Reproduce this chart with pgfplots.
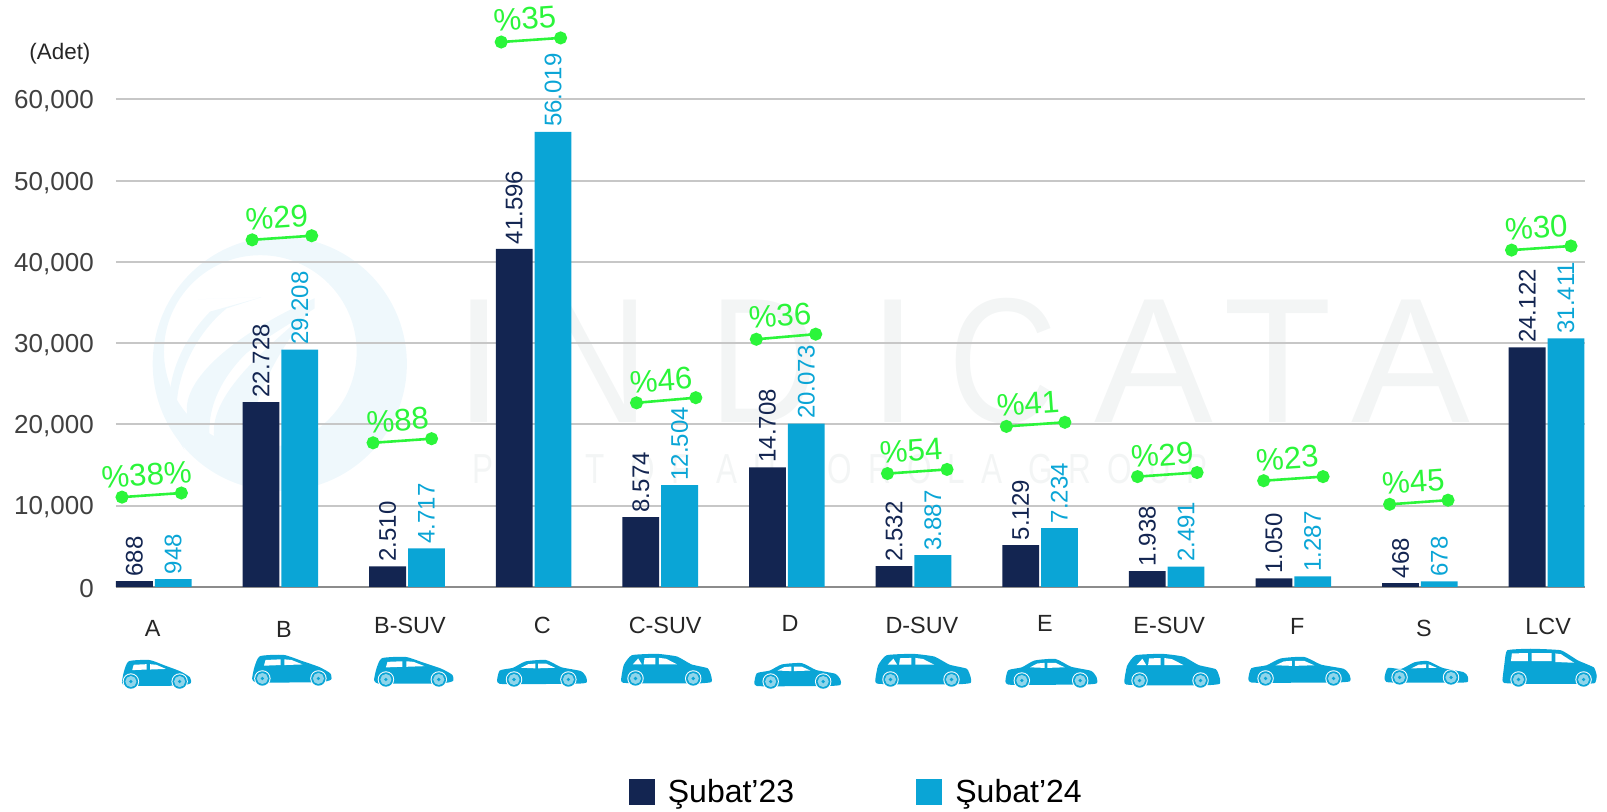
\documentclass[border=0pt]{standalone}
\usepackage{fontspec}
\setmainfont{Liberation Sans}
\usepackage{graphicx}
\usepackage{pgfplots}
\pgfplotsset{compat=1.18}
\definecolor{navyb}{HTML}{132551}
\definecolor{cyanb}{HTML}{0AA5D6}
\definecolor{lime}{HTML}{2BF53A}
\definecolor{wmark}{HTML}{F3F5F5}
\definecolor{wlogo}{HTML}{EFF8FC}
\definecolor{hub}{HTML}{8FD5EA}

% car silhouettes, unit box, y up
\newcommand\bodyhatch{\fill[cyanb] plot[smooth cycle,tension=0.35] coordinates {(0,0.25) (0.03,0.62) (0.10,0.96) (0.40,1.0) (0.62,0.82) (0.85,0.62) (0.99,0.42) (1,0.22) (0.85,0.14) (0.2,0.13) (0.04,0.14)};
  \fill[white] (0.17,0.84)--(0.36,0.86)--(0.36,0.68)--(0.15,0.66)--cycle (0.41,0.86)--(0.50,0.84)--(0.64,0.70)--(0.41,0.68)--cycle;}
\newcommand\bodysedan{\fill[cyanb] plot[smooth cycle,tension=0.35] coordinates {(0,0.25) (0.03,0.62) (0.18,0.72) (0.32,0.95) (0.55,1.0) (0.72,0.74) (0.94,0.60) (1,0.38) (1,0.18) (0.85,0.14) (0.2,0.13) (0.03,0.14)};
  \fill[white] (0.27,0.72)--(0.35,0.85)--(0.43,0.87)--(0.43,0.70)--cycle (0.46,0.87)--(0.55,0.87)--(0.65,0.72)--(0.46,0.70)--cycle;}
\newcommand\bodysuv{\fill[cyanb] plot[smooth cycle,tension=0.3] coordinates {(0,0.22) (0.03,0.66) (0.12,0.96) (0.40,1.0) (0.62,0.92) (0.78,0.68) (0.96,0.56) (1,0.32) (1,0.14) (0.85,0.10) (0.2,0.10) (0.02,0.12)};
  \fill[white] (0.13,0.68)--(0.19,0.86)--(0.23,0.68)--cycle (0.26,0.87)--(0.38,0.88)--(0.38,0.68)--(0.25,0.68)--cycle (0.42,0.88)--(0.50,0.85)--(0.62,0.68)--(0.42,0.68)--cycle;}
\newcommand\bodycoupe{\fill[cyanb] plot[smooth cycle,tension=0.35] coordinates {(0,0.35) (0.04,0.72) (0.20,0.68) (0.36,0.95) (0.52,1.0) (0.70,0.72) (0.95,0.55) (1,0.38) (1,0.15) (0.85,0.12) (0.2,0.12) (0.02,0.15)};
  \fill[white] (0.32,0.70)--(0.41,0.85)--(0.50,0.87)--(0.50,0.72)--cycle (0.53,0.87)--(0.63,0.72)--(0.53,0.72)--cycle;}
\newcommand\bodyvan{\fill[cyanb] plot[smooth cycle,tension=0.25] coordinates {(0,0.20) (0.02,0.60) (0.05,0.96) (0.30,1.0) (0.62,0.96) (0.80,0.70) (0.97,0.52) (1,0.30) (0.98,0.12) (0.85,0.10) (0.2,0.10) (0.02,0.12)};
  \fill[white] (0.10,0.88)--(0.27,0.89)--(0.27,0.68)--(0.09,0.68)--cycle (0.31,0.89)--(0.52,0.89)--(0.52,0.68)--(0.31,0.68)--cycle (0.56,0.88)--(0.62,0.86)--(0.76,0.64)--(0.56,0.66)--cycle;}
% left, bottom, width, height, body, wheel x1, wheel x2
\newcommand\car[7]{\begin{scope}[shift={(#1,#2)},xscale=#3,yscale=-#4]
  #5
  \pgfmathsetmacro\rx{8/#3}\pgfmathsetmacro\ry{8/#4}
  \foreach \wx in {#6,#7}{
    \fill[white] (\wx,\ry) ellipse [x radius=\rx,y radius=\ry];
    \fill[cyanb] (\wx,\ry) ellipse [x radius=0.88*\rx,y radius=0.88*\ry];
    \fill[hub] (\wx,\ry) ellipse [x radius=0.68*\rx,y radius=0.68*\ry];
    \fill[cyanb] (\wx,\ry) ellipse [x radius=0.22*\rx,y radius=0.22*\ry];
  }
\end{scope}}
\newcommand\nar[1]{\scalebox{.85}[1]{#1}}

\begin{document}
\begin{tikzpicture}[font=\fontsize{12}{14}\selectfont]
\begin{scope}[x=0.51244pt,y=-0.51244pt]
\useasboundingbox (0,0) rectangle (1568,792.25);
% watermark logo and wordmark
\fill[wlogo,even odd rule] (273,355) circle (124) (254,343) circle (94);
\fill[wlogo] (193,292)--(255,290)--(205,304) .. controls (170,340) and (150,395) .. (180,439) .. controls (160,395) and (180,335) .. (221,301) --(255,290)--cycle;
\fill[wlogo] (307,291) .. controls (240,320) and (170,370) .. (184,410) .. controls (186,435) and (200,455) .. (218,465) .. controls (195,430) and (200,385) .. (240,345) .. controls (265,325) and (290,312) .. (307,301) --cycle;
\fill[wlogo] (306,299) .. controls (260,340) and (195,390) .. (211,436) .. controls (220,460) and (240,470) .. (257,475) .. controls (232,445) and (240,380) .. (306,299) --cycle;
\node[text=wmark,anchor=west,inner sep=0pt] at (443,352) {\fontsize{89}{89}\selectfont I\hspace{18pt}\nar{N}\hspace{30.2pt}\nar{D}\hspace{24.6pt}I\hspace{15.4pt}\nar{C}\hspace{18.4pt}A\hspace{5.1pt}T\hspace{9.7pt}A};
\node[text=wmark,anchor=center,inner sep=0pt] at (820,458) {\fontsize{21}{21}\selectfont\scalebox{.75}[1]{P\hspace{10.7pt}A\hspace{10.7pt}R\hspace{10.7pt}T\hspace{17.3pt}O\hspace{10.7pt}F\hspace{17.3pt}A\hspace{10.7pt}U\hspace{10.7pt}T\hspace{10.7pt}O\hspace{10.7pt}R\hspace{10.7pt}O\hspace{10.7pt}L\hspace{10.7pt}A\hspace{17.3pt}G\hspace{10.7pt}R\hspace{10.7pt}O\hspace{10.7pt}U\hspace{10.7pt}P}};
\end{scope}

\begin{axis}[
    at={(57.9pt,-293.4pt)}, anchor=south west,
    scale only axis,
    width=734.35pt, height=243.7pt,
    xmin=-0.3, xmax=11.3,
    ymin=0, ymax=60000,
    clip=false,
    axis x line=bottom, axis y line=left,
    x axis line style={draw=black!45,line width=1pt,-},
    y axis line style={draw=none},
    major tick length=0pt,
    ymajorgrids,
    grid style={draw=black!22,line width=1pt},
    ytick={0,10000,...,60000},
    /pgf/number format/assume math mode=true,
    /pgf/number format/1000 sep={,},
    scaled y ticks=false,
    yticklabel style={font=\fontsize{13}{15}\selectfont,text=black!75,xshift=-7.5pt,yshift=-1pt},
    xtick={-0.008,1.028,2.023,3.068,4.039,5.026,6.067,7.038,8.02,9.031,10.032,11.013},
    xticklabels={A,\raisebox{-0.5pt}{B},\raisebox{1.5pt}{B-SUV},\raisebox{1.5pt}{C},\raisebox{1.5pt}{C-SUV},\raisebox{2.5pt}{D},\raisebox{1.5pt}{D-SUV},\raisebox{2.5pt}{E},\raisebox{1.5pt}{E-SUV},\raisebox{1pt}{F},S,\raisebox{1pt}{LCV}},
    xticklabel style={font=\fontsize{11.7}{14}\selectfont,text=black!85,anchor=base,yshift=-24.6pt},
    ybar, bar width=18.4pt,
    nodes near coords,
    point meta=explicit symbolic,
    nodes near coords style={rotate=90,anchor=west,inner sep=2.2pt,font=\fontsize{12}{14}\selectfont},
    legend columns=2,
    legend style={at={(0.3492,-0.4206)},anchor=west,draw=none,fill=none,inner sep=0pt,outer sep=0pt,
      font=\fontsize{16}{18}\selectfont,
      /tikz/every odd column/.append style={column sep=4.6pt},
      /tikz/every even column/.append style={column sep=59pt}},
    legend image code/.code={\fill[#1] (0pt,-6.5pt) rectangle (13pt,6.5pt);},
]
\addplot[bar shift=-9.7pt,fill=navyb,draw=none,nodes near coords style={text=navyb}] coordinates {
    (0,688)[688] (1,22728)[22.728] (2,2510)[2.510] (3,41596)[41.596]
    (4,8574)[8.574] (5,14708)[14.708] (6,2532)[2.532] (7,5129)[5.129]
    (8,1938)[1.938] (9,1050)[1.050] (10,468)[468] (11,29460)[24.122]
};
\addlegendentry{\raisebox{-1pt}{Şubat’23}}
\addplot[bar shift=9.7pt,fill=cyanb,draw=none,nodes near coords style={text=cyanb}] coordinates {
    (0,948)[948] (1,29208)[29.208] (2,4717)[4.717] (3,56019)[56.019]
    (4,12504)[12.504] (5,20073)[20.073] (6,3887)[3.887] (7,7234)[7.234]
    (8,2491)[2.491] (9,1287)[1.287] (10,678)[678] (11,30570)[31.411]
};
\addlegendentry{\raisebox{-1pt}{Şubat’24}}
\addplot[sharp plot,forget plot,unbounded coords=jump,nodes near coords=,lime,line width=1.3pt,mark=*,
    mark options={fill=lime,draw=lime},mark size=2.6pt] coordinates {
    (-0.251,11041) (0.218,11546) (nan,nan)
    (0.777,42712) (1.247,43217) (nan,nan)
    (1.732,17728) (2.194,18233) (nan,nan)
    (2.744,67065) (3.213,67570) (nan,nan)
    (3.813,22649) (4.281,23280) (nan,nan)
    (4.759,30472) (5.228,31103) (nan,nan)
    (5.795,13943) (6.265,14448) (nan,nan)
    (6.734,19747) (7.196,20252) (nan,nan)
    (7.770,13564) (8.240,14069) (nan,nan)
    (8.766,13060) (9.235,13564) (nan,nan)
    (9.761,10157) (10.222,10662) (nan,nan)
    (10.724,41450) (11.193,41955)
};
\end{axis}

\begin{scope}[x=0.51244pt,y=-0.51244pt]
\node[text=black!85,anchor=center,inner sep=0pt,font=\fontsize{11.2}{13}\selectfont] at (58.5,52.5) {(Adet)};
\tikzset{pct/.style={text=lime,rotate=4,inner sep=0pt,anchor=center,font=\fontsize{15.6}{18}\selectfont}}
\node[pct] at (143,463) {\%38\%};
\node[pct] at (270,212) {\%29};
\node[pct] at (388,410) {\%88};
\node[pct] at (512,18) {\%35};
\node[pct] at (645,371) {\%46};
\node[pct] at (761,308) {\%36};
\node[pct] at (889,440) {\%54};
\node[pct] at (1003,394) {\%41};
\node[pct] at (1134,444) {\%29};
\node[pct] at (1256,447) {\%23};
\node[pct] at (1379,470) {\%45};
\node[pct] at (1499,222) {\%30};
% car icons
\car{119}{673}{67}{29}{\bodyhatch}{0.13}{0.84}
\car{246}{670}{77}{31}{\bodyhatch}{0.13}{0.84}
\car{365}{671}{77}{30}{\bodyhatch}{0.15}{0.82}
\car{485}{671}{87}{27}{\bodysedan}{0.19}{0.80}
\car{606}{670}{88}{32}{\bodysuv}{0.16}{0.80}
\car{736}{673}{84}{26}{\bodysedan}{0.19}{0.80}
\car{854}{671}{93}{33}{\bodysuv}{0.16}{0.80}
\car{981}{672}{89}{29}{\bodysedan}{0.18}{0.82}
\car{1097}{672}{93}{34}{\bodysuv}{0.16}{0.80}
\car{1218}{670}{99}{29}{\bodysedan}{0.17}{0.84}
\car{1351}{669}{81}{24}{\bodycoupe}{0.18}{0.80}
\car{1466}{671}{92}{38}{\bodyvan}{0.17}{0.86}
\end{scope}
\end{tikzpicture}
\end{document}
